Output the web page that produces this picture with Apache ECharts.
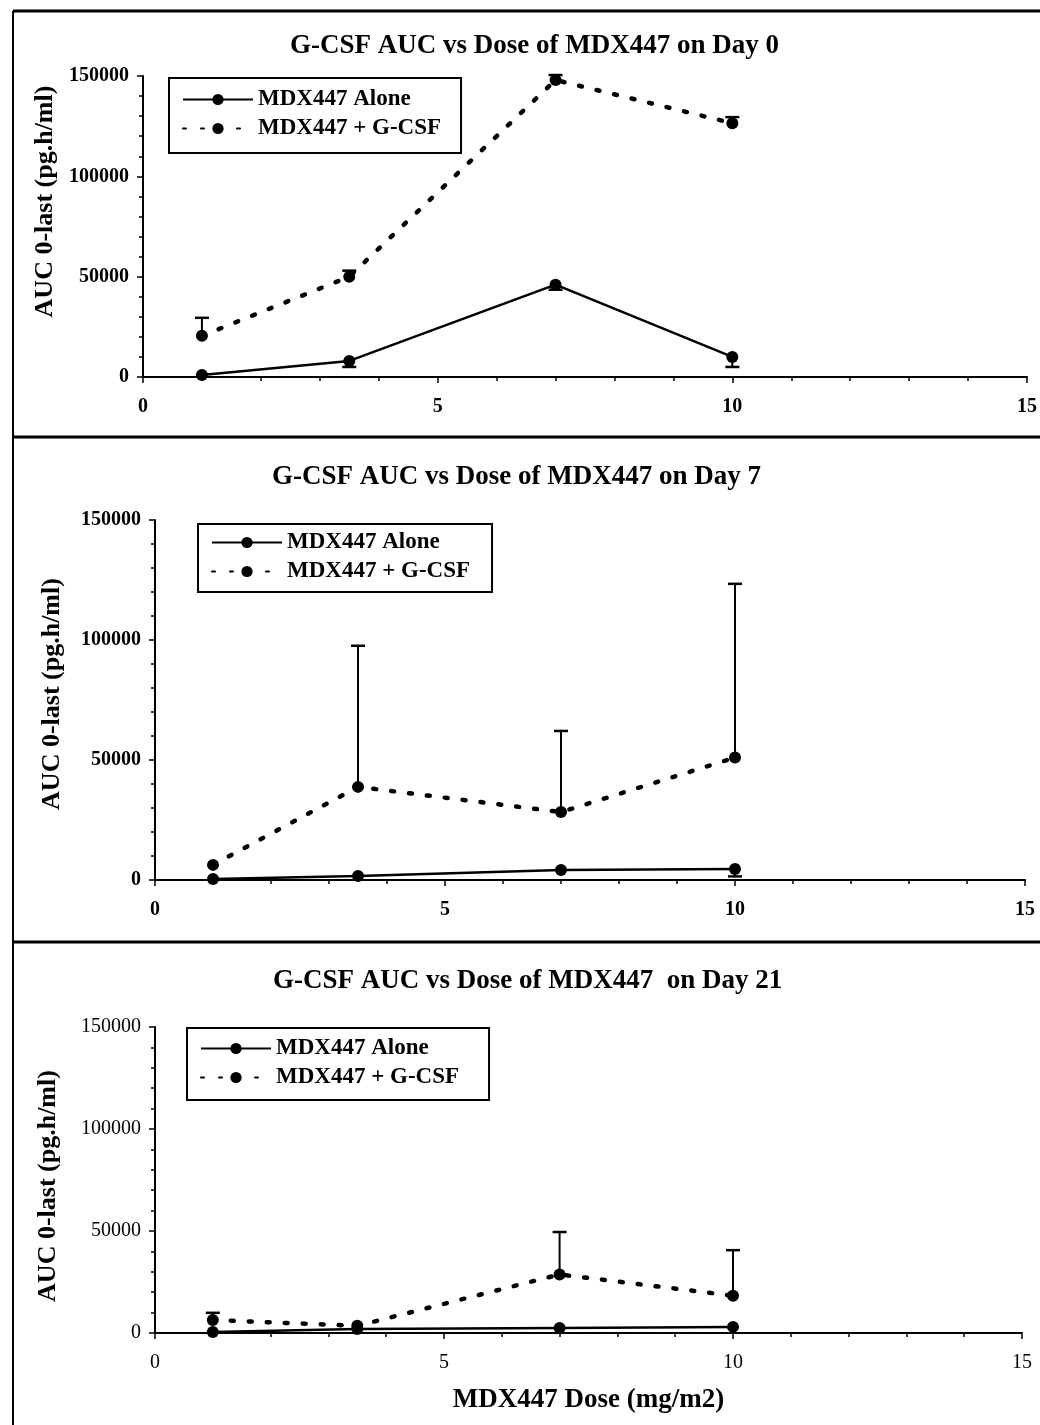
<!DOCTYPE html>
<html><head><meta charset="utf-8">
<script src="https://cdn.jsdelivr.net/npm/echarts@6/dist/echarts.min.js"></script>
<style>html,body{margin:0;padding:0;background:#fff}#c{width:1040px;height:1425px}</style>
</head><body><div id="c"></div>
<script>
// ---- data ----
const doses = [1, 3.5, 7, 10];
const seriesNames = ['MDX447 Alone', 'MDX447 + G-CSF'];
const panelTitles = [
  'G-CSF AUC vs Dose of MDX447 on Day 0',
  'G-CSF AUC vs Dose of MDX447 on Day 7',
  'G-CSF AUC vs Dose of MDX447  on Day 21'
];
const yTicks = [0, 50000, 100000, 150000];
const xTicks = [0, 5, 10, 15];
const yAxisTitle = 'AUC 0-last (pg.h/ml)';
const xAxisTitle = 'MDX447 Dose (mg/m2)';

// Day 0
const day0Alone = [1000, 8000, 46000, 10000];
const day0AloneErrEnd = [null, 5000, 43500, 5000];
const day0Gcsf = [20500, 50000, 148000, 126500];
const day0GcsfErrEnd = [29500, 53000, 150500, 129500];
// Day 7
const day7Alone = [400, 1700, 4200, 4600];
const day7AloneErrEnd = [null, null, null, 1500];
const day7Gcsf = [6300, 38800, 28300, 51000];
const day7GcsfErrEnd = [null, 97600, 62100, 123400];
// Day 21
const day21Alone = [500, 2000, 2500, 3000];
const day21AloneErrEnd = [null, null, null, null];
const day21Gcsf = [6400, 3500, 28700, 18300];
const day21GcsfErrEnd = [9900, null, 49500, 40600];

const panels = [
  {alone: day0Alone, aloneErr: day0AloneErrEnd, gcsf: day0Gcsf, gcsfErr: day0GcsfErrEnd},
  {alone: day7Alone, aloneErr: day7AloneErrEnd, gcsf: day7Gcsf, gcsfErr: day7GcsfErrEnd},
  {alone: day21Alone, aloneErr: day21AloneErrEnd, gcsf: day21Gcsf, gcsfErr: day21GcsfErrEnd}
];

// ---- layout (styling only) ----
const FONT = "'Liberation Serif','Times New Roman',serif";
const grids = [
  {left: 143, top: 76, width: 887, height: 301},
  {left: 155, top: 520, width: 870, height: 360},
  {left: 155, top: 1027, width: 867, height: 306}
];
const titleLayout = [
  {left: 290, top: 33},
  {left: 272, top: 464},
  {left: 273, top: 968}
];
const legendLayout = [
  {left: 169, top: 78, padding: [10, 20, 13, 13]},
  {left: 198, top: 524, padding: [7, 22, 9, 13]},
  {left: 187, top: 1028, padding: [9, 30, 11, 13]}
];
const yNameGap = [78, 90, 94];
const yNamePad = [[0, 0, 0, 50], [0, 0, 0, 12], [0, 12, 0, 0]];
const tickWeight = ['bold', 'bold', 'normal'];

function errRender(params, api) {
  const x = api.value(0), v = api.value(1), e = api.value(2);
  const p0 = api.coord([x, v]);
  const p1 = api.coord([x, e]);
  return {
    type: 'group',
    children: [
      {type: 'line', shape: {x1: p0[0], y1: p0[1], x2: p1[0], y2: p1[1]}, style: {stroke: '#000', lineWidth: 2}},
      {type: 'line', shape: {x1: p1[0] - 7, y1: p1[1], x2: p1[0] + 7, y2: p1[1]}, style: {stroke: '#000', lineWidth: 2.5}}
    ]
  };
}
function errData(vals, ends) {
  return doses.map((d, i) => [d, vals[i], ends[i]]).filter(r => r[2] != null);
}

const option = {
  backgroundColor: '#fff',
  animation: false,
  title: [], legend: [], grid: [], xAxis: [], yAxis: [], series: [],
  graphic: [
    {type: 'line', shape: {x1: 13, y1: 11, x2: 13, y2: 1425}, style: {stroke: '#000', lineWidth: 2}},
    {type: 'line', shape: {x1: 13, y1: 11, x2: 1040, y2: 11}, style: {stroke: '#000', lineWidth: 3}},
    {type: 'line', shape: {x1: 13, y1: 437, x2: 1040, y2: 437}, style: {stroke: '#000', lineWidth: 3}},
    {type: 'line', shape: {x1: 13, y1: 942, x2: 1040, y2: 942}, style: {stroke: '#000', lineWidth: 3}}
  ]
};

panels.forEach((p, i) => {
  option.title.push({
    text: panelTitles[i], left: titleLayout[i].left, top: titleLayout[i].top, padding: 0,
    textStyle: {fontFamily: FONT, fontSize: 27, fontWeight: 'bold', color: '#000'}
  });
  option.legend.push({
    data: seriesNames, orient: 'vertical',
    left: legendLayout[i].left, top: legendLayout[i].top, padding: legendLayout[i].padding,
    itemWidth: 70, itemHeight: 14, itemGap: 6,
    borderColor: '#000', borderWidth: 2, backgroundColor: '#fff',
    textStyle: {fontFamily: FONT, fontSize: 23, fontWeight: 'bold', color: '#000'}
  });
  option.grid.push(Object.assign({containLabel: false}, grids[i]));
  option.xAxis.push({
    type: 'value', gridIndex: i, min: 0, max: 15, interval: 5,
    name: i === 2 ? xAxisTitle : '', nameLocation: 'middle', nameGap: 54,
    nameTextStyle: {fontFamily: FONT, fontSize: 27, fontWeight: 'bold', color: '#000'},
    axisLine: {lineStyle: {color: '#000', width: 2}},
    axisTick: {show: true, length: 6, lineStyle: {color: '#000', width: 1.5}},
    minorTick: {show: true, splitNumber: 5, length: 4, lineStyle: {color: '#000', width: 1.5}},
    axisLabel: {fontFamily: FONT, fontSize: 20, fontWeight: tickWeight[i], color: '#000', margin: 20,
      formatter: v => String(v)},
    splitLine: {show: false}
  });
  option.yAxis.push({
    type: 'value', gridIndex: i, min: 0, max: 150000, interval: 50000,
    name: yAxisTitle, nameLocation: 'middle', nameGap: yNameGap[i], nameRotate: 90,
    nameTextStyle: {fontFamily: FONT, fontSize: 26, fontWeight: 'bold', color: '#000', padding: yNamePad[i]},
    axisLine: {show: true, lineStyle: {color: '#000', width: 2}},
    axisTick: {show: true, length: 6, lineStyle: {color: '#000', width: 1.5}},
    minorTick: {show: true, splitNumber: 5, length: 4, lineStyle: {color: '#000', width: 1.5}},
    axisLabel: {fontFamily: FONT, fontSize: 20, fontWeight: tickWeight[i], color: '#000', margin: 14,
      formatter: v => String(v)},
    splitLine: {show: false}
  });
  option.series.push({
    name: seriesNames[0], type: 'line', xAxisIndex: i, yAxisIndex: i,
    data: doses.map((d, k) => [d, p.alone[k]]),
    symbol: 'circle', symbolSize: 12, itemStyle: {color: '#000'},
    lineStyle: {color: '#000', width: 2.5}, z: 3
  });
  option.series.push({
    name: seriesNames[1], type: 'line', xAxisIndex: i, yAxisIndex: i,
    data: doses.map((d, k) => [d, p.gcsf[k]]),
    symbol: 'circle', symbolSize: 12, itemStyle: {color: '#000'},
    lineStyle: {color: '#000', width: 4.5, type: [3, 15], cap: 'round'}, z: 3
  });
  option.series.push({
    name: 'err-alone-' + i, type: 'custom', xAxisIndex: i, yAxisIndex: i, clip: false,
    renderItem: errRender, data: errData(p.alone, p.aloneErr), z: 2
  });
  option.series.push({
    name: 'err-gcsf-' + i, type: 'custom', xAxisIndex: i, yAxisIndex: i, clip: false,
    renderItem: errRender, data: errData(p.gcsf, p.gcsfErr), z: 2
  });
});

const chart = echarts.init(document.getElementById('c'));
chart.setOption(option);
</script>
</body></html>
